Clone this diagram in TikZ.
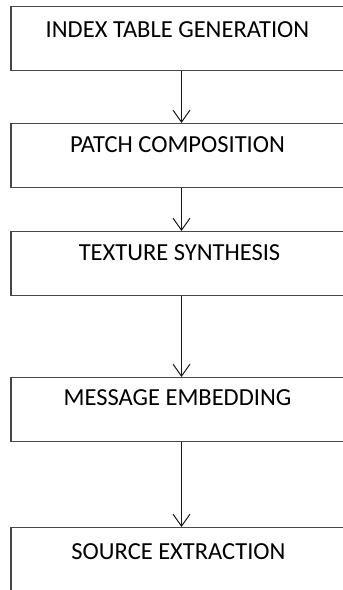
\documentclass[tikz,border=0pt]{standalone}
\usepackage{fontspec}
\setmainfont{Carlito}
\usetikzlibrary{arrows.meta,calc}
\begin{document}
\begin{tikzpicture}[x=1pt,y=1pt,
  stagebox/.style={draw=black!72, line width=1.4pt, rectangle, minimum width=341pt,
    minimum height=64pt, inner sep=0pt, anchor=north},
  stagetext/.style={font=\fontsize{24.5}{28}\selectfont, text=black, inner sep=0pt},
  flow/.style={draw=black!90, line width=1pt, -{Straight Barb[length=12pt,width=17pt,line width=1pt]}}]
  \useasboundingbox (0,0) rectangle (343,-590);
  \clip (0,0) rectangle (343,-590);
  % process stages, top to bottom
  \node[stagebox] (s1) at (181.5,-6) {};
  \node[stagebox] (s2) at (181.5,-123) {};
  \node[stagebox] (s3) at (181.5,-231) {};
  \node[stagebox] (s4) at (181.5,-377) {};
  \node[stagebox] (s5) at (181.5,-527) {};
  % stage titles
  \node[stagetext] (t1) at ($(s1.north)+(-4,-24)$) {INDEX TABLE GENERATION};
  \node[stagetext] (t2) at ($(s2.north)+(-4,-22)$) {PATCH COMPOSITION};
  \node[stagetext] (t3) at ($(s3.north)+(-2,-22)$) {TEXTURE SYNTHESIS};
  \node[stagetext] (t4) at ($(s4.north)+(-4,-21)$) {MESSAGE EMBEDDING};
  \node[stagetext] (t5) at ($(s5.north)+(-3,-25)$) {SOURCE EXTRACTION};
  % connectors
  \draw[flow] (s1.south) -- (s2.north);
  \draw[flow] (s2.south) -- (s3.north);
  \draw[flow] (s3.south) -- (s4.north);
  \draw[flow] (s4.south) -- (s5.north);
\end{tikzpicture}
\end{document}
